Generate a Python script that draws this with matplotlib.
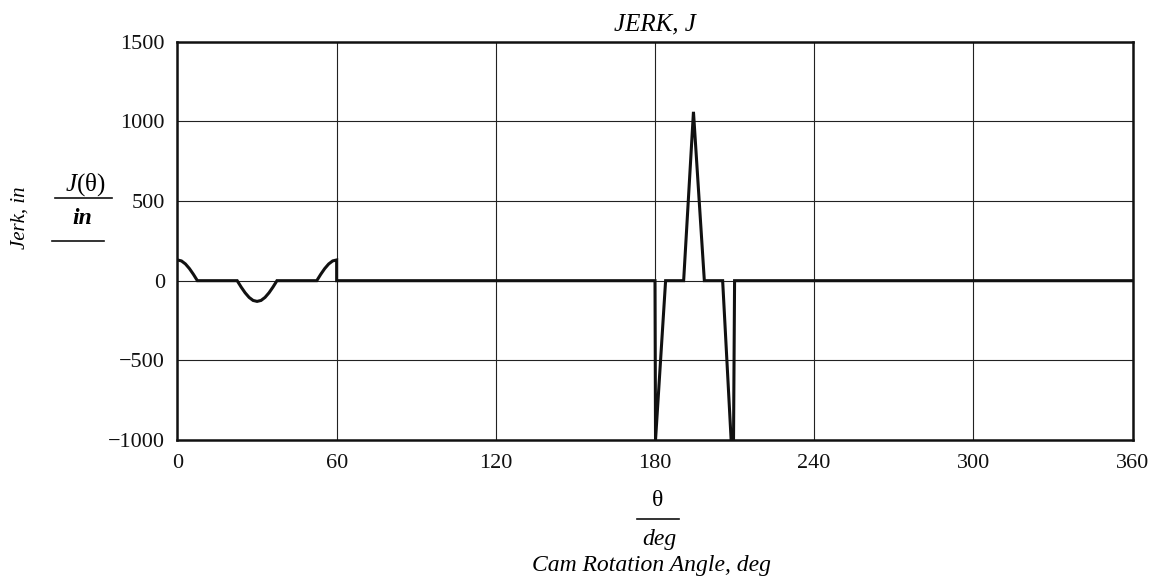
import matplotlib.pyplot as plt
from matplotlib.lines import Line2D

# Jerk curve (deg, jerk/in)
theta = [0, 1.5, 3, 4.5, 6, 7.5,
         22.5, 24, 25.5, 27, 28.5, 30, 31.5, 33, 34.5, 36, 37.5,
         52.5, 54, 55.5, 57, 58.5, 60, 60,
         180, 180.2, 184, 190.8, 194.5, 198.6, 205.5, 208.7, 209.6, 210,
         360]
jerk = [130, 124, 105, 76, 40, 0,
        0, -40, -76, -105, -124, -130, -124, -105, -76, -40, 0,
        0, 40, 76, 105, 124, 130, 0,
        0, -1000, 0, 0, 1060, 0, 0, -1000, -1000, 0,
        0]

x_ticks = [0, 60, 120, 180, 240, 300, 360]
y_ticks = [-1000, -500, 0, 500, 1000, 1500]
y_tick_labels = ['\u22121000', '\u2212500', '0', '500', '1000', '1500']

plt.rcParams['font.family'] = ['Liberation Serif', 'DejaVu Serif']
plt.rcParams['mathtext.fontset'] = 'custom'
plt.rcParams['mathtext.rm'] = 'Liberation Serif'
plt.rcParams['mathtext.it'] = 'Liberation Serif:italic'

fig = plt.figure(figsize=(11.6, 5.81), dpi=100)
ax = fig.add_axes([0.153, 0.2427, 0.9763 - 0.153, 0.9282 - 0.2427])

ax.plot(theta, jerk, color='#111111', linewidth=2.2, solid_joinstyle='miter')

ax.set_xlim(0, 360)
ax.set_ylim(-1000, 1500)
ax.set_xticks(x_ticks)
ax.set_yticks(y_ticks)
ax.set_yticklabels(y_tick_labels)
ax.tick_params(length=0, labelsize=16, colors='#111111')
ax.tick_params(axis='x', pad=10)
ax.tick_params(axis='y', pad=9)
ax.grid(True, color='#222222', linewidth=0.8)
for sp in ax.spines.values():
    sp.set_linewidth(1.8)
    sp.set_color('#111111')

ax.set_title('JERK, J', fontstyle='italic', fontsize=18, pad=8)

# y-axis labels
W, H = 1160, 581
def fx(px):
    return px / W
def fy(py):
    return 1 - py / H

fig.text(fx(20), fy(218), 'Jerk, in', rotation=90, fontstyle='italic',
         fontsize=15, ha='center', va='center')
fig.text(fx(85), fy(185), '$J$(\u03b8)', fontsize=18, ha='center', va='center')
fig.add_artist(Line2D([fx(55), fx(112)], [fy(198), fy(198)], color='#111111', lw=1.2))
fig.text(fx(82), fy(219), 'in', fontsize=17, fontstyle='italic', fontweight='bold',
         ha='center', va='center')
fig.add_artist(Line2D([fx(52), fx(104)], [fy(241), fy(241)], color='#111111', lw=1.2))

# x-axis labels
fig.text(fx(658), fy(501), '\u03b8', fontsize=17, ha='center', va='center')
fig.add_artist(Line2D([fx(637), fx(679)], [fy(519), fy(519)], color='#111111', lw=1.2))
fig.text(fx(659), fy(539), 'deg', fontsize=17, fontstyle='italic', ha='center', va='center')
fig.text(fx(652), fy(566), 'Cam Rotation Angle, deg', fontsize=17, fontstyle='italic',
         ha='center', va='center')

fig.savefig('out.png', dpi=100, facecolor='white')
